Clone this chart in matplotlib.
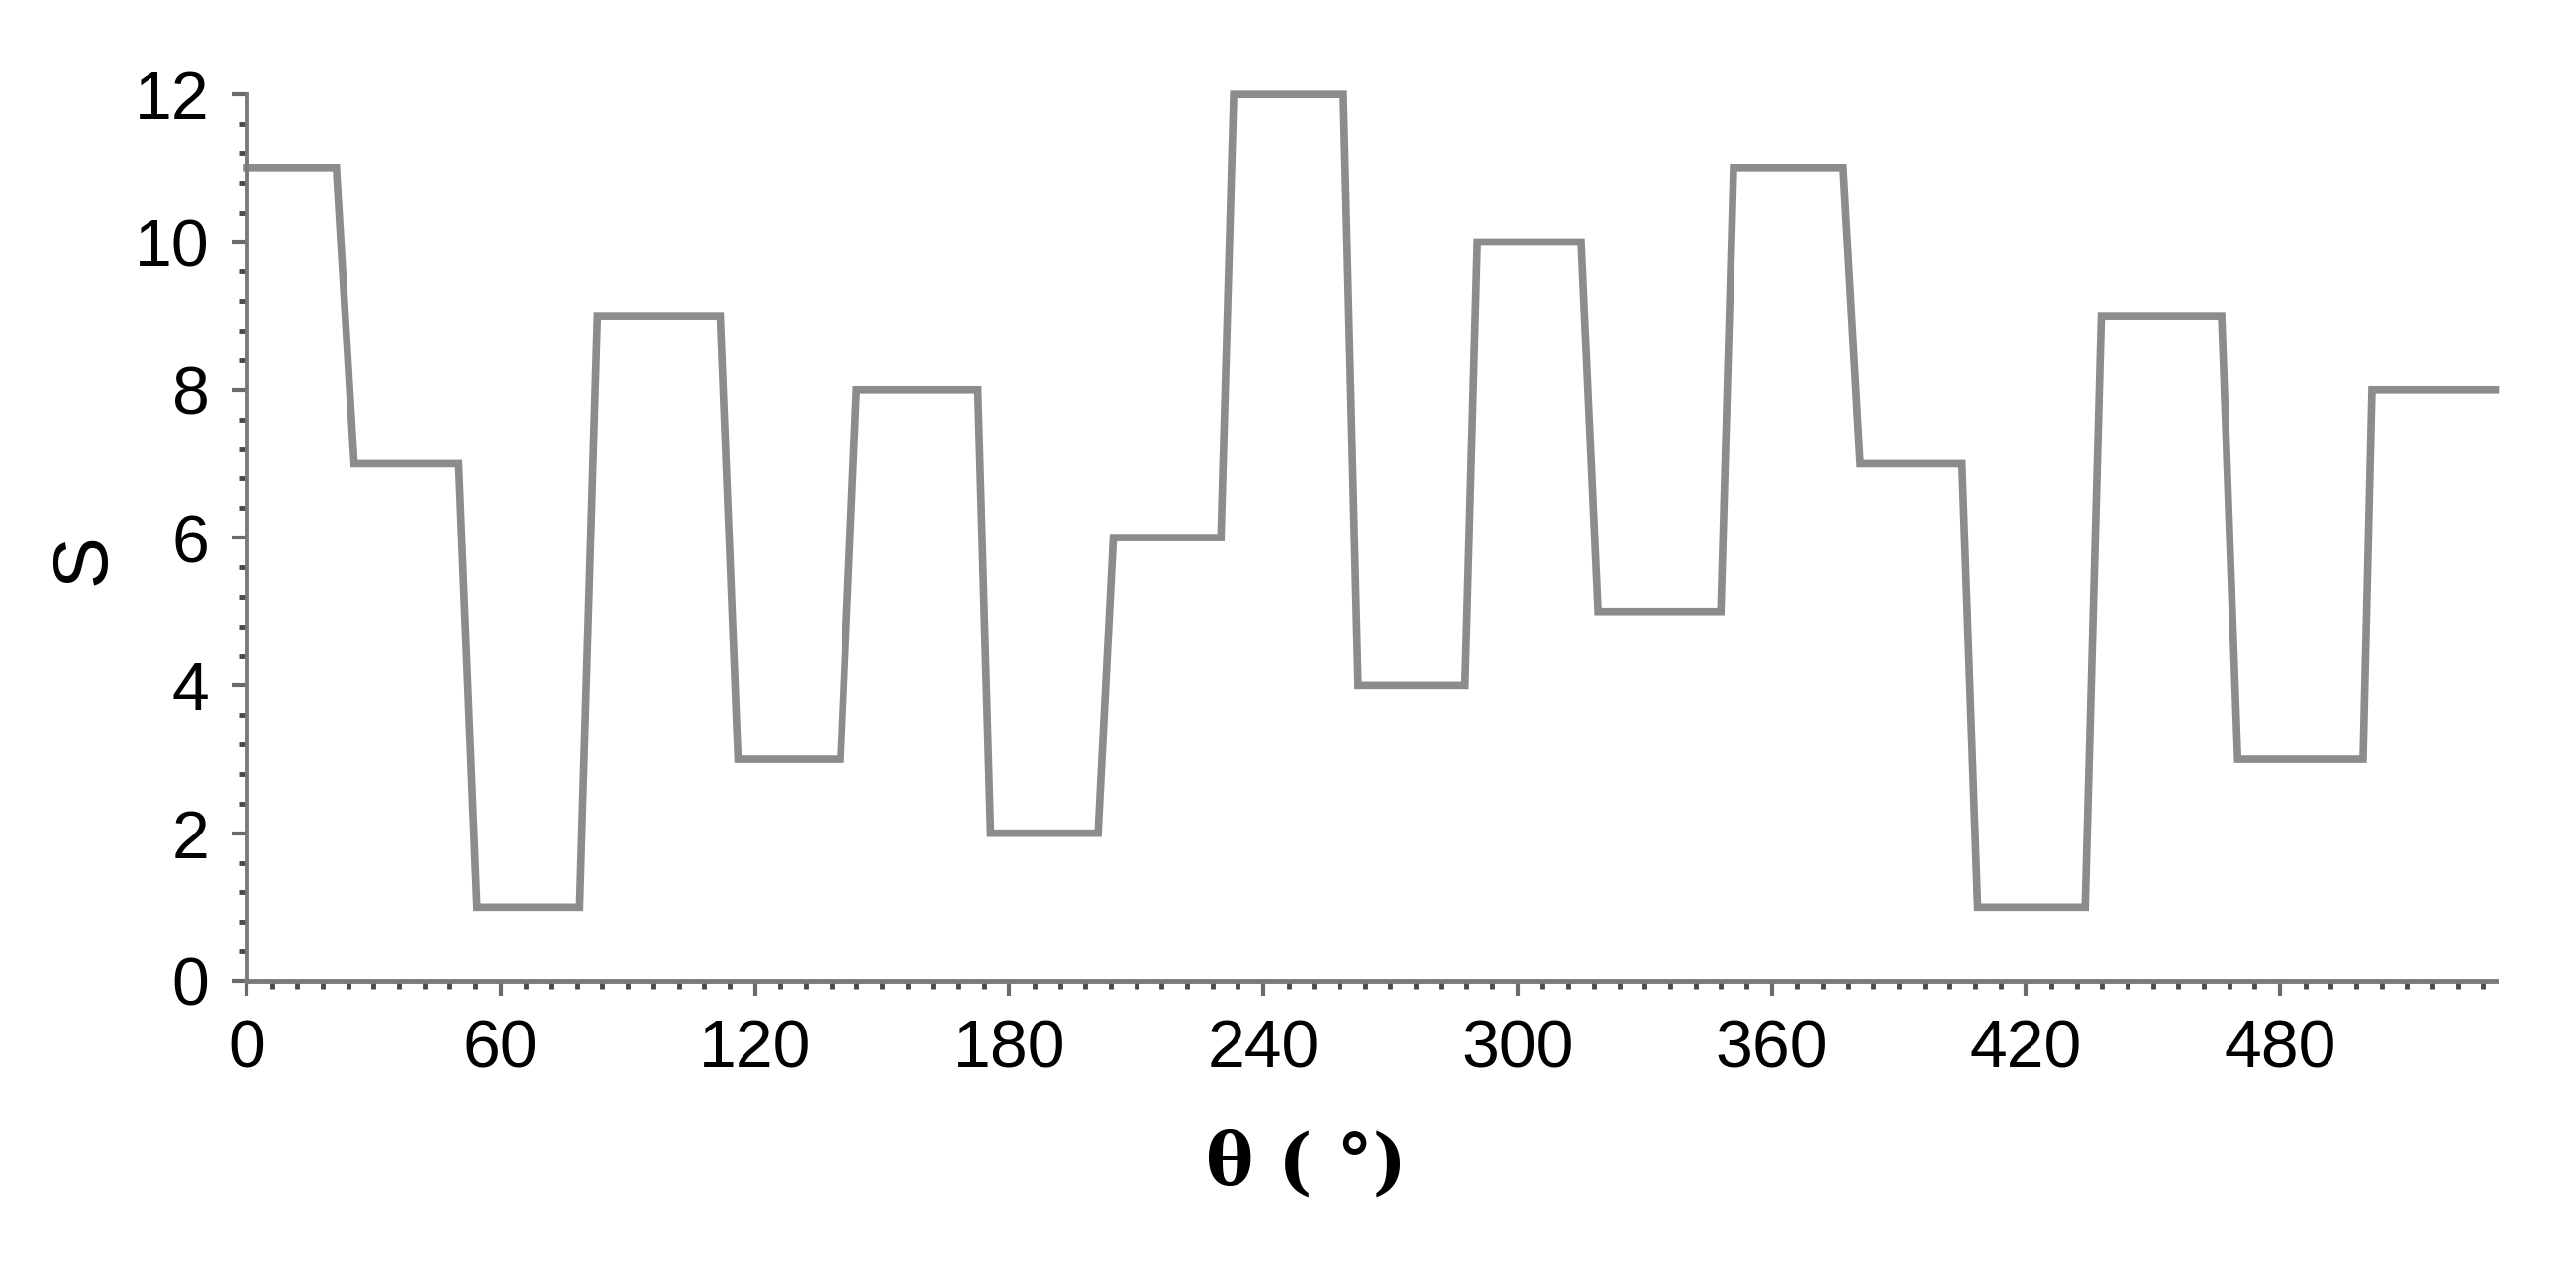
import matplotlib.pyplot as plt
from matplotlib.ticker import MultipleLocator

# corner points of the S(theta) trace
theta = [0, 21.2, 25.4, 50.1, 54.4, 78.6, 82.8, 111.8, 116, 140.2, 144, 172.6,
         175.6, 201, 204.6, 230, 233, 258.9, 262.4, 287.6, 290.5, 315, 319, 348,
         351, 376.9, 380.9, 404.9, 408.6, 434, 437.8, 466.2, 470, 499.6, 501.7, 530.8]
S = [11, 11, 7, 7, 1, 1, 9, 9, 3, 3, 8, 8,
     2, 2, 6, 6, 12, 12, 4, 4, 10, 10, 5, 5,
     11, 11, 7, 7, 1, 1, 9, 9, 3, 3, 8, 8]

x_ticks = [0, 60, 120, 180, 240, 300, 360, 420, 480]
y_ticks = [0, 2, 4, 6, 8, 10, 12]

plt.rcParams['font.family'] = ['Liberation Sans', 'DejaVu Sans']

fig = plt.figure(figsize=(26.02, 12.88), dpi=100)
ax = fig.add_axes([0.0957, 0.2306, 0.8733, 0.6955])

ax.plot(theta, S, color='#8c8c8c', lw=5.5, solid_joinstyle='miter', clip_on=False)

ax.set_xlim(0, 531)
ax.set_ylim(0, 12)
ax.set_xticks(x_ticks)
ax.set_yticks(y_ticks)
ax.xaxis.set_minor_locator(MultipleLocator(6))
ax.yaxis.set_minor_locator(MultipleLocator(0.4))

for s in ['top', 'right']:
    ax.spines[s].set_visible(False)
for s in ['left', 'bottom']:
    ax.spines[s].set_color('#7a7a7a')
    ax.spines[s].set_linewidth(3.5)

ax.tick_params(which='major', length=11, width=3, color='#6a6a6a',
               labelsize=49, pad=16)
ax.tick_params(which='minor', length=6, width=3.5, color='#4a4a4a')

ax.set_xlabel('θ ( °)', fontsize=52, fontweight='bold',
              family=['DejaVu Serif', 'DejaVu Sans'])
ax.xaxis.set_label_coords(0.471, -0.168)
ax.set_ylabel('S', fontsize=56)
ax.yaxis.set_label_coords(-0.056, 0.476)

fig.savefig('out.png', dpi=100, facecolor='white')
